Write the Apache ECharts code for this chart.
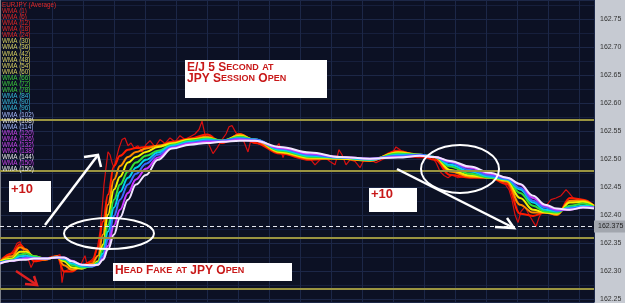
<!DOCTYPE html>
<html>
<head>
<meta charset="utf-8">
<script src="https://cdn.jsdelivr.net/npm/echarts@6/dist/echarts.min.js"></script>
<style>
  html, body { margin: 0; padding: 0; background: #c6cad2; }
  #chart { width: 625px; height: 303px; }
</style>
</head>
<body>
<div id="chart"></div>
<script>
// EUR/JPY 5 second bars (time index) and average price
const priceT = [0,5,10,14,17,20,23,26,29,31,34,40,46,52,57,60,61,62,64,68,72,76,80,83,85,87,90,94,97,100,102,104,106,108,110,112,114,116,119,122,125,128,131,134,138,142,146,150,155,160,165,170,175,180,185,190,195,199,202,205,209,213,217,222,226,229,232,236,240,244,248,251,256,262,268,274,279,283,286,292,298,304,310,315,320,325,330,335,339,342,346,350,355,360,364,370,376,382,388,393,396,400,404,410,418,426,432,436,440,444,448,452,458,464,470,476,482,488,494,500,505,509,512,515,518,521,525,529,533,536,539,543,547,551,556,561,566,569,573,578,584,589,594];
const priceV = [162.318,162.323,162.330,162.339,162.350,162.353,162.339,162.327,162.318,162.307,
  162.318,162.319,162.323,162.327,162.328,162.330,162.303,162.280,162.300,162.303,
  162.307,162.305,162.309,162.321,162.328,162.312,162.318,162.325,162.339,162.371,
  162.410,162.455,162.485,162.513,162.508,162.494,162.485,162.499,162.520,162.535,
  162.538,162.524,162.529,162.520,162.524,162.513,162.526,162.533,162.522,162.535,
  162.528,162.538,162.531,162.542,162.535,162.540,162.545,162.553,162.568,162.544,
  162.526,162.510,162.520,162.535,162.545,162.558,162.560,162.547,162.542,162.531,
  162.513,162.535,162.529,162.526,162.520,162.517,162.528,162.503,162.517,162.512,
  162.510,162.506,162.501,162.490,162.499,162.503,162.496,162.490,162.517,162.508,
  162.490,162.499,162.496,162.485,162.499,162.499,162.494,162.499,162.504,162.513,
  162.522,162.517,162.508,162.504,162.503,162.503,162.504,162.494,162.478,162.471,
  162.467,162.472,162.467,162.469,162.472,162.467,162.471,162.469,162.465,162.462,
  162.456,162.446,162.428,162.401,162.387,162.407,162.415,162.401,162.389,162.380,
  162.396,162.410,162.419,162.428,162.431,162.435,162.446,162.440,162.431,162.428,
  162.423,162.417,162.414];

// WMA ribbon, fastest (red) to slowest (white), read at these time points
const wmaT = [0,12,20,26,34,45,57,64,72,82,92,98,103,108,114,120,128,136,146,158,172,190,207,222,240,255,280,310,340,370,398,420,435,450,470,490,507,520,533,545,557,570,583,594];
const wmaRed = [162.318,162.332,162.348,162.339,162.318,162.321,162.327,162.300,162.300,162.311,162.318,162.343,162.389,162.437,162.488,162.506,162.517,162.520,162.522,162.524,162.531,162.537,162.544,162.529,162.545,162.529,162.510,162.499,162.503,162.497,162.515,162.506,162.499,162.472,162.467,162.467,162.456,162.403,162.399,162.405,162.401,162.431,162.428,162.417];
const wmaOrange = [162.318,162.327,162.343,162.339,162.323,162.321,162.327,162.311,162.303,162.307,162.314,162.328,162.366,162.419,162.464,162.488,162.504,162.513,162.519,162.524,162.529,162.535,162.540,162.531,162.544,162.533,162.512,162.501,162.501,162.497,162.513,162.508,162.503,162.478,162.469,162.467,162.460,162.419,162.405,162.405,162.401,162.426,162.426,162.417];
const wmaYellow = [162.318,162.323,162.335,162.335,162.327,162.323,162.325,162.318,162.307,162.305,162.311,162.318,162.348,162.401,162.446,162.469,162.494,162.504,162.513,162.522,162.528,162.535,162.538,162.533,162.542,162.535,162.513,162.503,162.501,162.499,162.512,162.508,162.504,162.481,162.471,162.467,162.462,162.431,162.410,162.405,162.403,162.423,162.424,162.417];
const wmaGreen = [162.316,162.321,162.330,162.332,162.327,162.323,162.325,162.321,162.311,162.307,162.309,162.316,162.339,162.383,162.428,162.455,162.478,162.494,162.506,162.515,162.526,162.533,162.537,162.533,162.540,162.535,162.515,162.504,162.503,162.499,162.510,162.508,162.504,162.487,162.474,162.467,162.464,162.440,162.417,162.407,162.405,162.417,162.421,162.415];
const wmaCyan = [162.316,162.319,162.327,162.328,162.325,162.323,162.325,162.323,162.314,162.309,162.309,162.314,162.332,162.371,162.414,162.442,162.467,162.485,162.499,162.512,162.524,162.531,162.535,162.533,162.538,162.535,162.517,162.506,162.503,162.499,162.508,162.508,162.504,162.490,162.478,162.469,162.464,162.446,162.423,162.410,162.407,162.414,162.417,162.415];
const wmaBlue = [162.316,162.319,162.323,162.325,162.323,162.323,162.325,162.323,162.318,162.311,162.309,162.312,162.327,162.357,162.399,162.428,162.455,162.474,162.492,162.508,162.522,162.529,162.533,162.533,162.537,162.535,162.519,162.508,162.503,162.501,162.506,162.508,162.504,162.494,162.481,162.471,162.465,162.449,162.426,162.414,162.408,162.412,162.415,162.414];
const wmaMagenta = [162.314,162.319,162.321,162.323,162.323,162.323,162.325,162.325,162.319,162.312,162.311,162.312,162.323,162.346,162.382,162.410,162.440,162.464,162.483,162.503,162.520,162.528,162.531,162.531,162.535,162.533,162.520,162.510,162.504,162.501,162.504,162.506,162.504,162.496,162.485,162.474,162.467,162.455,162.431,162.417,162.410,162.410,162.414,162.414];
const wmaWhite = [162.314,162.319,162.321,162.321,162.323,162.323,162.325,162.325,162.318,162.312,162.311,162.312,162.321,162.339,162.366,162.396,162.428,162.455,162.472,162.499,162.519,162.526,162.529,162.531,162.533,162.533,162.522,162.512,162.504,162.501,162.503,162.506,162.504,162.497,162.487,162.476,162.467,162.456,162.435,162.419,162.412,162.410,162.414,162.412];

const ribbon = [wmaRed, wmaOrange, wmaYellow, wmaGreen, wmaCyan, wmaBlue, wmaMagenta, wmaWhite];
const ribbonColors = ['#ff1a00', '#ff8a00', '#f2f000', '#34e034', '#00d4e8', '#3a6cff', '#c838ff', '#f2e6ff'];

// horizontal levels and last price
const levels = [162.567, 162.482, 162.364, 162.273];
const lastPrice = 162.375;

const legendNames = ['EURJPY (Average)', 'WMA (1)', 'WMA (6)', 'WMA (12)', 'WMA (18)', 'WMA (24)',
  'WMA (30)', 'WMA (36)', 'WMA (42)', 'WMA (48)', 'WMA (54)', 'WMA (60)', 'WMA (66)', 'WMA (72)',
  'WMA (78)', 'WMA (84)', 'WMA (90)', 'WMA (96)', 'WMA (102)', 'WMA (108)', 'WMA (114)', 'WMA (120)',
  'WMA (126)', 'WMA (132)', 'WMA (138)', 'WMA (144)', 'WMA (150)', 'WMA (150)'];
const legendColors = ['#e02828', '#e02828', '#e02828', '#e02828', '#e02828', '#e02828',
  '#d8d060', '#d8d060', '#d8d060', '#d8d060', '#d8d060', '#d8d060', '#3cc83c', '#3cc83c',
  '#3cc83c', '#36b8d8', '#36b8d8', '#36b8d8', '#a8bcff', '#e8e8e8', '#a8bcff', '#c844e8',
  '#c844e8', '#c844e8', '#c844e8', '#e8e8e8', '#c844e8', '#e8e8e8'];

const chart = echarts.init(document.getElementById('chart'));

const red = '#c81818';
const font = '"Liberation Sans", Arial, sans-serif';
const capsRich = {
  b: { fontSize: 12, fontWeight: 'bold', fill: red, fontFamily: font },
  s: { fontSize: 9, fontWeight: 'bold', fill: red, fontFamily: font }
};

let graphic = legendNames.map((name, i) => ({
  type: 'text', x: 2, y: 2 + i * 6.1, z: 50,
  style: { text: name, fill: legendColors[i], font: '6.3px ' + font }
}));

graphic = graphic.concat([
  // title box
  { type: 'rect', z: 50, shape: { x: 185, y: 60, width: 142, height: 38 }, style: { fill: '#fff' } },
  { type: 'text', z: 51, x: 187, y: 62,
    style: { text: '{b|E/J 5 S}{s|ECOND} {s|AT}\n{b|JPY S}{s|ESSION} {b|O}{s|PEN}', rich: capsRich, lineHeight: 11 } },
  // +10 boxes
  { type: 'rect', z: 50, shape: { x: 9, y: 181, width: 42, height: 31 }, style: { fill: '#fff' } },
  { type: 'text', z: 51, x: 11, y: 183, style: { text: '+10', fill: red, font: 'bold 13px ' + font } },
  { type: 'rect', z: 50, shape: { x: 369, y: 188, width: 48, height: 24 }, style: { fill: '#fff' } },
  { type: 'text', z: 51, x: 371, y: 188, style: { text: '+10', fill: red, font: 'bold 13px ' + font } },
  // head fake box
  { type: 'rect', z: 50, shape: { x: 113, y: 263, width: 179, height: 18 }, style: { fill: '#fff' } },
  { type: 'text', z: 51, x: 115, y: 265,
    style: { text: '{b|H}{s|EAD} {b|F}{s|AKE} {s|AT} {b|JPY} {b|O}{s|PEN}', rich: capsRich } },
  // ellipses
  { type: 'ellipse', z: 52, shape: { cx: 109, cy: 233.5, rx: 45, ry: 15.5 }, style: { fill: 'none', stroke: '#fff', lineWidth: 2 } },
  { type: 'ellipse', z: 52, shape: { cx: 460, cy: 169, rx: 39, ry: 24 }, style: { fill: 'none', stroke: '#fff', lineWidth: 2 } },
  // arrows
  { type: 'polyline', z: 52, shape: { points: [[45, 225], [98, 155]] }, style: { stroke: '#fff', lineWidth: 2.5 } },
  { type: 'polyline', z: 52, shape: { points: [[84, 157], [98, 155], [101, 167]] }, style: { stroke: '#fff', lineWidth: 2.5, fill: 'none' } },
  { type: 'polyline', z: 52, shape: { points: [[397, 169], [514, 228]] }, style: { stroke: '#fff', lineWidth: 2.5 } },
  { type: 'polyline', z: 52, shape: { points: [[495, 227], [514, 228], [507, 218]] }, style: { stroke: '#fff', lineWidth: 2.5, fill: 'none' } },
  { type: 'polyline', z: 52, shape: { points: [[16, 271], [37, 285]] }, style: { stroke: '#e02020', lineWidth: 2.5 } },
  { type: 'polyline', z: 52, shape: { points: [[25, 284], [37, 285], [34, 276]] }, style: { stroke: '#e02020', lineWidth: 2.5, fill: 'none' } }
]);

const ribbonSeries = ribbon.map((vals, i) => ({
  type: 'line',
  data: wmaT.map((t, j) => [t, vals[j]]),
  smooth: 0.4,
  smoothMonotone: 'x',
  symbol: 'none',
  silent: true,
  lineStyle: { color: ribbonColors[i], width: 2 }
}));

const option = {
  animation: false,
  backgroundColor: '#c6cad2',
  grid: {
    left: 0, right: 31, top: 0, bottom: 0,
    show: true, backgroundColor: '#0c1124', borderWidth: 0
  },
  xAxis: [
    { type: 'value', min: 0, max: 594, show: false },
    {
      type: 'value', min: -0.7, max: 18.46, splitNumber: 19,
      axisLine: { show: false }, axisTick: { show: false }, axisLabel: { show: false },
      splitLine: { show: true, lineStyle: { color: '#1c2747', width: 1 } }
    }
  ],
  yAxis: {
    type: 'value',
    position: 'right',
    min: 162.2446,
    max: 162.7838,
    splitNumber: 10,
    axisLine: { show: true, lineStyle: { color: '#7c808a' } },
    axisTick: { show: false },
    axisLabel: {
      color: '#333', fontSize: 7, margin: 6, fontFamily: font,
      showMinLabel: false, showMaxLabel: false,
      formatter: v => v.toFixed(2)
    },
    splitLine: { show: true, lineStyle: { color: '#1c2747', width: 1 } },
    minorTick: { show: false, splitNumber: 2 },
    minorSplitLine: { show: true, lineStyle: { color: '#161f3c', width: 1 } }
  },
  graphic: graphic,
  series: [
    {
      type: 'line',
      name: 'EURJPY (Average)',
      data: priceT.map((t, i) => [t, priceV[i]]),
      symbol: 'none',
      silent: true,
      lineStyle: { color: '#d81010', width: 1.2 },
      markLine: {
        symbol: 'none',
        silent: true,
        label: { show: false },
        data: levels.map(v => ({ yAxis: v, lineStyle: { color: '#9a9440', width: 2, type: 'solid' } }))
          .concat([{
            yAxis: lastPrice,
            lineStyle: { color: '#e6e8f0', width: 1, type: [4, 3] },
            label: {
              show: true, position: 'end', distance: 0, formatter: '162.375',
              color: '#222', fontSize: 7, fontFamily: font,
              backgroundColor: '#a2a6ae', padding: [3, 4, 2, 4]
            }
          }])
      }
    }
  ].concat(ribbonSeries)
};

chart.setOption(option);
</script>
</body>
</html>
